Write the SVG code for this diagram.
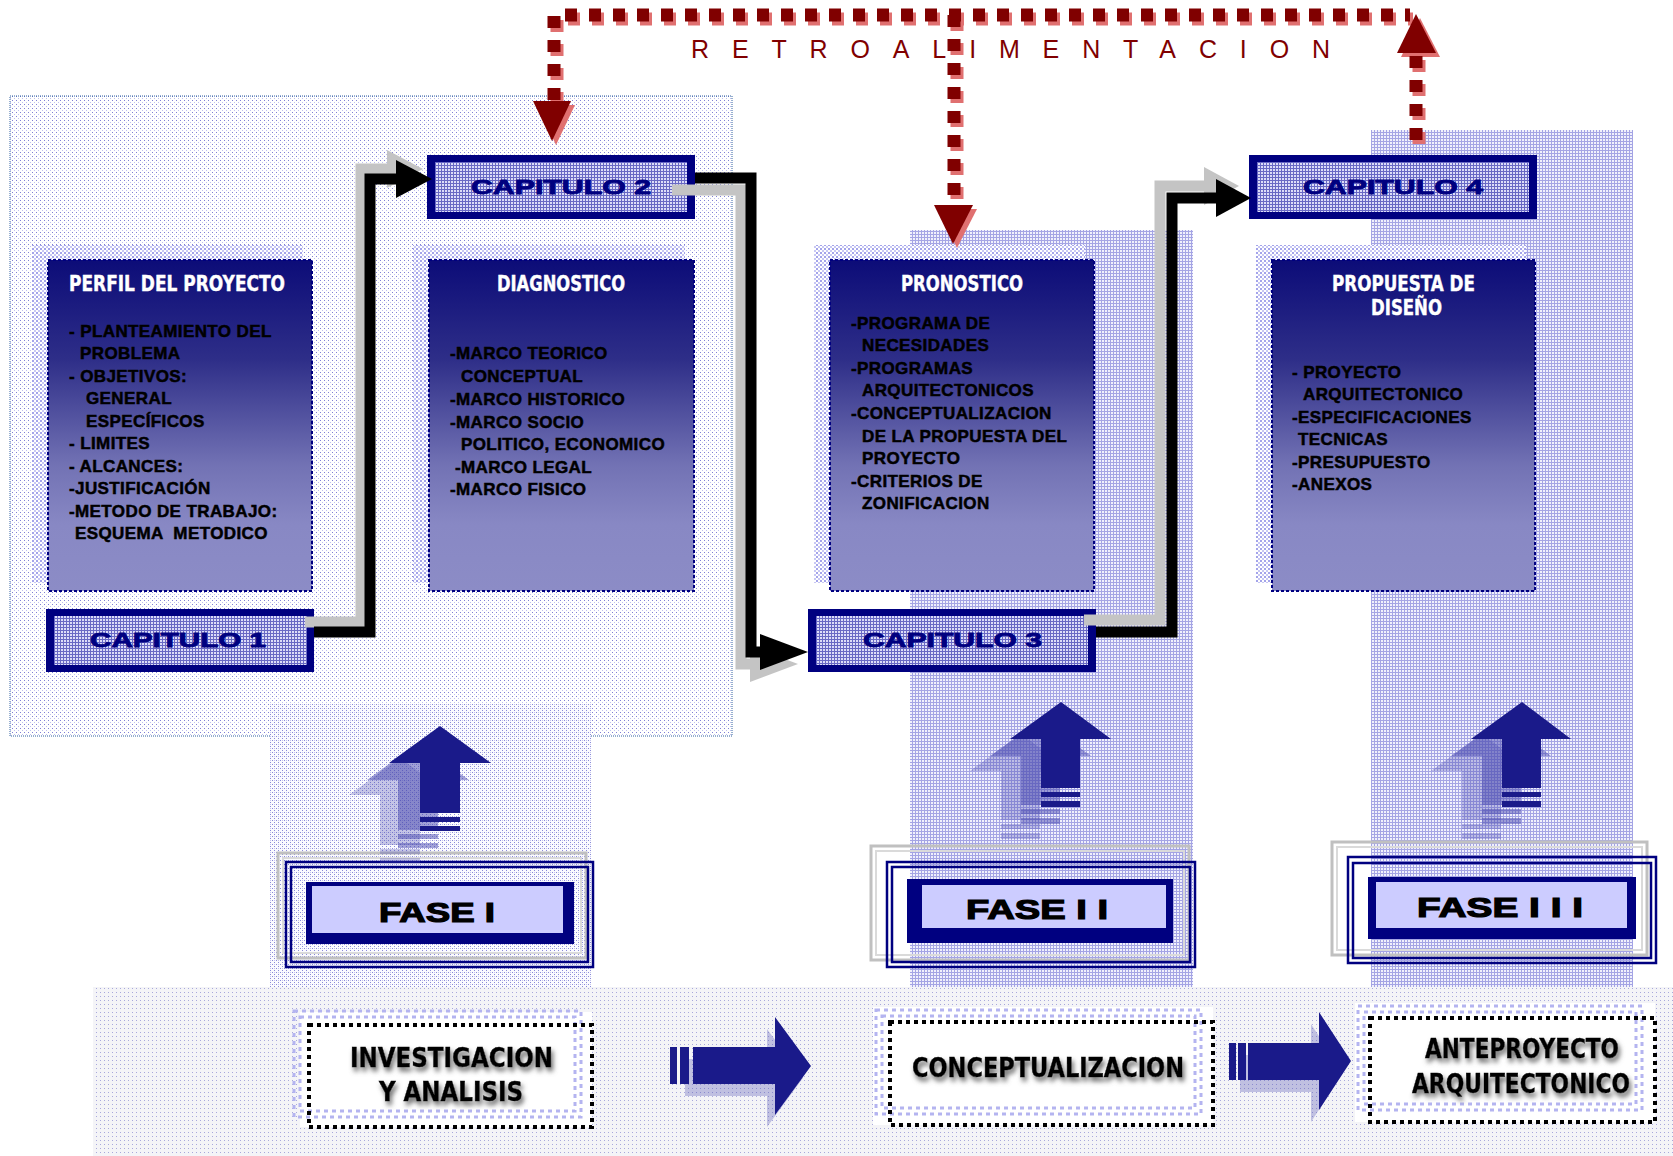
<svg xmlns="http://www.w3.org/2000/svg" width="1673" height="1156" viewBox="0 0 1673 1156">
<defs>
<style>
.ttl{font-family:"DejaVu Sans Condensed","DejaVu Sans",sans-serif;font-stretch:condensed;font-weight:bold;font-size:22px;fill:#fff;stroke:#fff;stroke-width:0.4;}
.itm{font-family:"Liberation Sans",Arial,sans-serif;font-weight:bold;font-size:17px;letter-spacing:0.4px;fill:#000;stroke:#000;stroke-width:0.5;white-space:pre;}
.cap{font-family:"Liberation Sans",Arial,sans-serif;font-weight:bold;font-size:20px;fill:#000080;stroke:#000080;stroke-width:0.8;}
.fase{font-family:"Liberation Sans",Arial,sans-serif;font-weight:bold;font-size:28px;fill:#000;stroke:#000;stroke-width:1.2;}
.big{font-family:"DejaVu Sans Condensed","DejaVu Sans",sans-serif;font-stretch:condensed;font-weight:bold;font-size:26px;fill:#000;stroke:#000;stroke-width:0.4;filter:url(#glow);}
.retro{font-family:"Liberation Sans",Arial,sans-serif;font-size:25px;fill:#800000;}
.box{fill:url(#gBox);stroke:#000080;stroke-width:2;stroke-dasharray:3 2;}
.bsh{fill:url(#pShadow);}
.capo{fill:#000080;}
.capi{fill:url(#pCap);}
.red{fill:none;stroke:#800000;stroke-width:13;stroke-dasharray:12 12;}
.redsh{fill:none;stroke:#e07070;stroke-width:13;stroke-dasharray:12 12;}
.conn{fill:none;stroke:#000;stroke-width:11;stroke-linejoin:miter;}
.connsh{fill:none;stroke:#c4c4c4;stroke-width:11;stroke-linejoin:miter;}
.fr{fill:none;stroke:#000080;stroke-width:2.5;}
.frg{fill:none;stroke:#c0c0c0;stroke-width:3;}
.frg2{fill:none;stroke:#dadada;stroke-width:2;}
.blu{fill:#1a1a8a;}
.ghost{fill:#4a4ab0;}
.wbox{fill:#fff;}
.bdot{fill:none;stroke:#000;stroke-width:4;stroke-dasharray:4 4;}
.lfr{fill:none;stroke:#b4b4f0;stroke-width:3;stroke-dasharray:4 4;}
</style>
<linearGradient id="gBox" x1="0" y1="0" x2="0" y2="1">
<stop offset="0" stop-color="#0c0c78"/>
<stop offset="0.3" stop-color="#2e2e88"/>
<stop offset="0.62" stop-color="#7272b4"/>
<stop offset="0.8" stop-color="#8888c4"/>
<stop offset="1" stop-color="#8c8cc6"/>
</linearGradient>
<pattern id="pFine" width="4" height="4" patternUnits="userSpaceOnUse">
<rect width="4" height="4" fill="#fff"/><rect width="1" height="1" fill="#8080d4"/><rect x="2" y="2" width="1" height="1" fill="#c0c0ee"/>
</pattern>
<pattern id="pLow" width="4" height="4" patternUnits="userSpaceOnUse">
<rect width="4" height="4" fill="#fbfbff"/><rect width="1" height="1" fill="#8a8ad8"/><rect x="2" y="2" width="1" height="1" fill="#8a8ad8"/><rect x="2" width="1" height="1" fill="#c4c4ee"/>
</pattern>
<pattern id="pCol" width="3" height="3" patternUnits="userSpaceOnUse">
<rect width="3" height="3" fill="#f0f0fc"/><rect width="3" height="1" fill="#a4a4e4"/><rect width="1" height="3" fill="#a4a4e4"/>
</pattern>
<pattern id="pBand" width="4" height="4" patternUnits="userSpaceOnUse">
<rect width="4" height="4" fill="#f4f4f7"/><rect width="1" height="1" fill="#a8a8dc"/>
</pattern>
<pattern id="pCap" width="3" height="3" patternUnits="userSpaceOnUse">
<rect width="3" height="3" fill="#dcdcf8"/><rect width="3" height="1" fill="#6868c4"/><rect width="1" height="3" fill="#6868c4"/>
</pattern>
<pattern id="pShadow" width="4" height="4" patternUnits="userSpaceOnUse">
<rect width="4" height="4" fill="#fff"/><rect width="2" height="2" fill="#a4a4ea"/><rect x="2" y="2" width="2" height="2" fill="#c8c8f4"/>
</pattern>
<filter id="glow" x="-20%" y="-50%" width="140%" height="200%">
<feGaussianBlur in="SourceAlpha" stdDeviation="2.5"/>
<feOffset dx="2" dy="4" result="b"/>
<feFlood flood-color="#666"/>
<feComposite in2="b" operator="in"/>
<feMerge><feMergeNode/><feMergeNode in="SourceGraphic"/></feMerge>
</filter>
</defs>
<rect width="1673" height="1156" fill="#fff"/>

<g id="backgrounds">
<rect x="10" y="96" width="722" height="640" fill="url(#pFine)" stroke="#3060a0" stroke-width="1" stroke-dasharray="1 1"/>
<rect x="270" y="704" width="321" height="452" fill="url(#pLow)"/>
<rect x="910" y="230" width="283" height="926" fill="url(#pCol)"/>
<rect x="1371" y="130" width="262" height="1026" fill="url(#pCol)"/>
<rect x="93" y="987" width="1580" height="169" fill="url(#pBand)"/>
</g>

<g id="perfil">
<rect class="bsh" x="32" y="245" width="271" height="338"/>
<rect class="box" x="48" y="260" width="264" height="331"/>
<text class="ttl" x="69" y="291" textLength="216" lengthAdjust="spacingAndGlyphs">PERFIL DEL PROYECTO</text>
<text class="itm" x="69" y="337">- PLANTEAMIENTO DEL</text>
<text class="itm" x="80" y="359">PROBLEMA</text>
<text class="itm" x="69" y="382">- OBJETIVOS:</text>
<text class="itm" x="86" y="404">GENERAL</text>
<text class="itm" x="86" y="427">ESPECÍFICOS</text>
<text class="itm" x="69" y="449">- LIMITES</text>
<text class="itm" x="69" y="472">- ALCANCES:</text>
<text class="itm" x="69" y="494">-JUSTIFICACIÓN</text>
<text class="itm" x="69" y="517">-METODO DE TRABAJO:</text>
<text class="itm" x="75" y="539">ESQUEMA  METODICO</text>
</g>

<g id="diagnostico">
<rect class="bsh" x="413" y="245" width="272" height="338"/>
<rect class="box" x="429" y="260" width="265" height="331"/>
<text class="ttl" x="497" y="291" textLength="128" lengthAdjust="spacingAndGlyphs">DIAGNOSTICO</text>
<text class="itm" x="450" y="359">-MARCO TEORICO</text>
<text class="itm" x="461" y="382">CONCEPTUAL</text>
<text class="itm" x="450" y="405">-MARCO HISTORICO</text>
<text class="itm" x="450" y="428">-MARCO SOCIO</text>
<text class="itm" x="461" y="450">POLITICO, ECONOMICO</text>
<text class="itm" x="455" y="473">-MARCO LEGAL</text>
<text class="itm" x="450" y="495">-MARCO FISICO</text>
</g>

<g id="pronostico">
<rect class="bsh" x="814" y="245" width="271" height="338"/>
<rect class="box" x="830" y="260" width="264" height="331"/>
<text class="ttl" x="901" y="291" textLength="122" lengthAdjust="spacingAndGlyphs">PRONOSTICO</text>
<text class="itm" x="851" y="329">-PROGRAMA DE</text>
<text class="itm" x="862" y="351">NECESIDADES</text>
<text class="itm" x="851" y="374">-PROGRAMAS</text>
<text class="itm" x="862" y="396">ARQUITECTONICOS</text>
<text class="itm" x="851" y="419">-CONCEPTUALIZACION</text>
<text class="itm" x="862" y="442">DE LA PROPUESTA DEL</text>
<text class="itm" x="862" y="464">PROYECTO</text>
<text class="itm" x="851" y="487">-CRITERIOS DE</text>
<text class="itm" x="862" y="509">ZONIFICACION</text>
</g>

<g id="propuesta">
<rect class="bsh" x="1256" y="245" width="270" height="338"/>
<rect class="box" x="1272" y="260" width="263" height="331"/>
<text class="ttl" x="1332" y="291" textLength="143" lengthAdjust="spacingAndGlyphs">PROPUESTA DE</text>
<text class="ttl" x="1371" y="315" textLength="71" lengthAdjust="spacingAndGlyphs">DISEÑO</text>
<text class="itm" x="1292" y="378">- PROYECTO</text>
<text class="itm" x="1303" y="400">ARQUITECTONICO</text>
<text class="itm" x="1292" y="423">-ESPECIFICACIONES</text>
<text class="itm" x="1298" y="445">TECNICAS</text>
<text class="itm" x="1292" y="468">-PRESUPUESTO</text>
<text class="itm" x="1292" y="490">-ANEXOS</text>
</g>

<g id="capitulo1">
<rect class="capo" x="46" y="609" width="268" height="63"/>
<rect class="capi" x="54" y="616" width="253" height="49"/>
<text class="cap" x="90" y="647" textLength="176" lengthAdjust="spacingAndGlyphs">CAPITULO  1</text>
</g>
<g id="capitulo2">
<rect class="capo" x="427" y="155" width="268" height="64"/>
<rect class="capi" x="435" y="162" width="252" height="50"/>
<text class="cap" x="471" y="194" textLength="180" lengthAdjust="spacingAndGlyphs">CAPITULO 2</text>
</g>
<g id="capitulo3">
<rect class="capo" x="808" y="609" width="288" height="63"/>
<rect class="capi" x="816" y="616" width="272" height="49"/>
<text class="cap" x="863" y="647" textLength="179" lengthAdjust="spacingAndGlyphs">CAPITULO 3</text>
</g>
<g id="capitulo4">
<rect class="capo" x="1249" y="155" width="288" height="64"/>
<rect class="capi" x="1257" y="162" width="272" height="50"/>
<text class="cap" x="1303" y="194" textLength="180" lengthAdjust="spacingAndGlyphs">CAPITULO 4</text>
</g>

<g id="fase1">
<rect class="frg" x="278" y="853" width="308" height="105"/>
<rect class="frg2" x="283" y="858" width="298" height="95"/>
<rect class="fr" x="286" y="862" width="307" height="105"/>
<rect class="fr" x="291" y="867" width="297" height="95"/>
<rect class="capo" x="306" y="882" width="268" height="62"/>
<rect fill="#ccccff" x="312" y="886" width="251" height="47"/>
<text class="fase" x="379" y="922" textLength="116" lengthAdjust="spacingAndGlyphs">FASE I</text>
</g>
<g id="fase2">
<rect class="frg" x="871" y="846" width="318" height="114"/>
<rect class="frg2" x="876" y="851" width="308" height="104"/>
<rect class="fr" x="887" y="862" width="308" height="105"/>
<rect class="fr" x="892" y="867" width="298" height="95"/>
<rect class="capo" x="907" y="879" width="266" height="64"/>
<rect fill="#ccccff" x="922" y="885" width="244" height="43"/>
<text class="fase" x="966" y="919" textLength="142" lengthAdjust="spacingAndGlyphs">FASE I I</text>
</g>
<g id="fase3">
<rect class="frg" x="1332" y="842" width="315" height="113"/>
<rect class="frg2" x="1337" y="847" width="305" height="103"/>
<rect class="fr" x="1348" y="857" width="308" height="106"/>
<rect class="fr" x="1353" y="863" width="298" height="95"/>
<rect class="capo" x="1368" y="877" width="268" height="62"/>
<rect fill="#ccccff" x="1376" y="882" width="251" height="46"/>
<text class="fase" x="1417" y="917" textLength="166" lengthAdjust="spacingAndGlyphs">FASE I I I</text>
</g>

<g id="up-arrows">
<g opacity="0.3" transform="translate(-40,32)"><path class="ghost" d="M440,726 L491,763 L460,763 L460,813 L420,813 L420,763 L389,763 Z"/><rect class="ghost" x="420" y="817" width="40" height="5"/><rect class="ghost" x="420" y="826" width="40" height="5"/></g>
<g opacity="0.5" transform="translate(-22,17)"><path class="ghost" d="M440,726 L491,763 L460,763 L460,813 L420,813 L420,763 L389,763 Z"/><rect class="ghost" x="420" y="817" width="40" height="5"/><rect class="ghost" x="420" y="826" width="40" height="5"/></g>
<path class="blu" d="M440,726 L491,763 L460,763 L460,813 L420,813 L420,763 L389,763 Z"/><rect class="blu" x="420" y="817" width="40" height="5"/><rect class="blu" x="420" y="826" width="40" height="5"/>

<g opacity="0.3" transform="translate(-40,32)"><path class="ghost" d="M1061,702 L1111,739 L1080,739 L1080,788 L1041,788 L1041,739 L1010,739 Z"/><rect class="ghost" x="1041" y="792" width="39" height="5"/><rect class="ghost" x="1041" y="801" width="39" height="6"/></g>
<g opacity="0.5" transform="translate(-20,17)"><path class="ghost" d="M1061,702 L1111,739 L1080,739 L1080,788 L1041,788 L1041,739 L1010,739 Z"/><rect class="ghost" x="1041" y="792" width="39" height="5"/><rect class="ghost" x="1041" y="801" width="39" height="6"/></g>
<path class="blu" d="M1061,702 L1111,739 L1080,739 L1080,788 L1041,788 L1041,739 L1010,739 Z"/><rect class="blu" x="1041" y="792" width="39" height="5"/><rect class="blu" x="1041" y="801" width="39" height="6"/>

<g opacity="0.3" transform="translate(-40,32)"><path class="ghost" d="M1522,702 L1571,739 L1541,739 L1541,788 L1502,788 L1502,739 L1471,739 Z"/><rect class="ghost" x="1502" y="792" width="39" height="5"/><rect class="ghost" x="1502" y="801" width="39" height="6"/></g>
<g opacity="0.5" transform="translate(-20,17)"><path class="ghost" d="M1522,702 L1571,739 L1541,739 L1541,788 L1502,788 L1502,739 L1471,739 Z"/><rect class="ghost" x="1502" y="792" width="39" height="5"/><rect class="ghost" x="1502" y="801" width="39" height="6"/></g>
<path class="blu" d="M1522,702 L1571,739 L1541,739 L1541,788 L1502,788 L1502,739 L1471,739 Z"/><rect class="blu" x="1502" y="792" width="39" height="5"/><rect class="blu" x="1502" y="801" width="39" height="6"/>
</g>

<g id="investigacion">
<rect class="wbox" x="300" y="1012" width="292" height="115"/>
<rect class="lfr" x="294" y="1011" width="287" height="106"/>
<rect class="lfr" x="300" y="1017" width="275" height="94"/>
<rect class="bdot" x="309" y="1025" width="283" height="102"/>
<text class="big" x="350" y="1067" textLength="203" lengthAdjust="spacingAndGlyphs">INVESTIGACION</text>
<text class="big" x="379" y="1101" textLength="144" lengthAdjust="spacingAndGlyphs">Y ANALISIS</text>
</g>
<g id="conceptualizacion">
<rect class="wbox" x="873" y="1007" width="340" height="118"/>
<rect class="lfr" x="876" y="1010" width="325" height="104"/>
<rect class="lfr" x="882" y="1016" width="313" height="92"/>
<rect class="bdot" x="890" y="1022" width="323" height="103"/>
<text class="big" x="912" y="1077" textLength="272" lengthAdjust="spacingAndGlyphs">CONCEPTUALIZACION</text>
</g>
<g id="anteproyecto">
<rect class="wbox" x="1355" y="1003" width="300" height="119"/>
<rect class="lfr" x="1358" y="1006" width="284" height="104"/>
<rect class="lfr" x="1364" y="1012" width="272" height="92"/>
<rect class="bdot" x="1370" y="1018" width="285" height="104"/>
<text class="big" x="1425" y="1058" textLength="194" lengthAdjust="spacingAndGlyphs">ANTEPROYECTO</text>
<text class="big" x="1412" y="1093" textLength="218" lengthAdjust="spacingAndGlyphs">ARQUITECTONICO</text>
</g>

<g id="right-arrows">
<g opacity="0.3" transform="translate(-8,12)"><path class="ghost" d="M811,1066 L775,1017 L775,1047 L693,1047 L693,1084 L775,1084 L775,1115 Z"/></g>
<path class="blu" d="M811,1066 L775,1017 L775,1047 L693,1047 L693,1084 L775,1084 L775,1115 Z"/>
<rect class="blu" x="670" y="1047" width="7" height="37"/><rect class="blu" x="680" y="1047" width="9" height="37"/>
<g opacity="0.3" transform="translate(-8,12)"><path class="ghost" d="M1351,1061 L1319,1012 L1319,1043 L1248,1043 L1248,1080 L1319,1080 L1319,1110 Z"/></g>
<path class="blu" d="M1351,1061 L1319,1012 L1319,1043 L1248,1043 L1248,1080 L1319,1080 L1319,1110 Z"/>
<rect class="blu" x="1229" y="1043" width="7" height="37"/><rect class="blu" x="1238" y="1043" width="8" height="37"/>
</g>

<g id="connectors">
<path class="connsh" d="M305,622 H361 V169 H391"/>
<polygon fill="#c4c4c4" points="387,150 423,169 387,188"/>
<path class="conn" d="M314,632 H370 V179 H400"/>
<polygon fill="#000" points="396,160 432,179 396,198"/>

<path class="connsh" d="M672,190 H741 V664 H754"/>
<polygon fill="#c4c4c4" points="750,646 798,664 750,682"/>
<path class="conn" d="M695,178 H751 V652 H764"/>
<polygon fill="#000" points="760,634 808,652 760,670"/>

<path class="connsh" d="M1084,620 H1160 V186 H1208"/>
<polygon fill="#c4c4c4" points="1204,167 1239,186 1204,205"/>
<path class="conn" d="M1096,632 H1172 V198 H1220"/>
<polygon fill="#000" points="1216,179 1251,198 1216,217"/>
</g>

<g id="retroalimentacion">
<path class="redsh" d="M557,104 V19 H1413"/>
<path class="redsh" d="M957,19 V209"/>
<path class="redsh" d="M1419,144 V57"/>
<polygon fill="#e07070" points="537,105 575,105 556,145"/>
<polygon fill="#e07070" points="938,209 977,209 957,248"/>
<polygon fill="#e07070" points="1401,57 1440,57 1420,18"/>
<path class="red" d="M554,100 V15 H1410"/>
<path class="red" d="M954,15 V205"/>
<path class="red" d="M1416,140 V55"/>
<polygon fill="#800000" points="533,101 571,101 552,141"/>
<polygon fill="#800000" points="934,205 973,205 953,244"/>
<polygon fill="#800000" points="1397,53 1436,53 1416,14"/>
<text class="retro" x="691" y="58" textLength="639" lengthAdjust="spacing">RETROALIMENTACION</text>
</g>
</svg>
